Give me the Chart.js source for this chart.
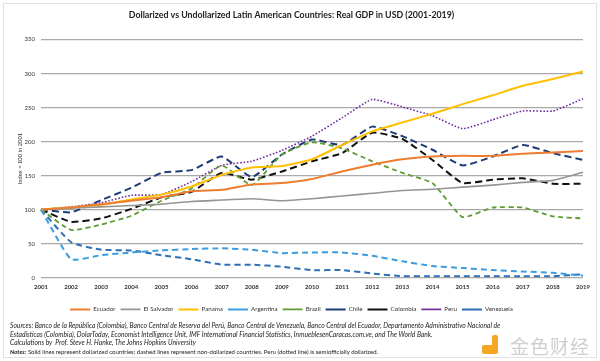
<!DOCTYPE html>
<html>
<head>
<meta charset="utf-8">
<script src="https://cdn.jsdelivr.net/npm/chart.js@4.4.1/dist/chart.umd.min.js"></script>
<style>
  html, body { margin: 0; padding: 0; background: #fff; }
  #wrap { position: relative; width: 600px; height: 361px; overflow: hidden; }
  #frame { position: absolute; left: 3px; top: 3px; right: 3px; bottom: 3px; border: 1px solid #e2e2e2; }
  #gdp { position: absolute; left: 0; top: 0; }
  .notes { position: absolute; left: 10px; top: 321px; font-family: Lato, sans-serif; font-size: 6.7px; line-height: 8.7px; color: #222; }
  .notes .n { font-size: 6px; }
  .mark { position: absolute; left: 486px; top: 332px; width: 110px; height: 26px; }
  .mark .logo { position: absolute; left: 0; top: 3px; width: 10px; height: 18px; }
  .mark .logo span { position: absolute; background: #f5a623; border-radius: 2px; }
  .mark .txt { position: absolute; left: 24px; top: 0; font-family: "Noto Sans CJK SC", sans-serif; font-size: 19px; color: #cfcfcf; letter-spacing: 1px; }
</style>
</head>
<body>
<div id="wrap">
  <div id="frame"></div>
  <canvas id="gdp" width="600" height="361"></canvas>
  <div class="notes">
    <i>Sources: Banco de la República (Colombia), Banco Central de Reserva del Perú, Banco Central de Venezuela, Banco Central del Ecuador, Departamento Administrativo Nacional de</i><br>
    <i>Estadísticas (Colombia), DolarToday, Economist Intelligence Unit, IMF International Financial Statistics, InmueblesenCaracas.com.ve, and The World Bank.</i><br>
    <i>Calculations by&nbsp; Prof. Steve H. Hanke, The Johns Hopkins University</i><br>
    <span class="n"><b><i>Notes:</i></b> Solid lines represent dollarized countries; dashed lines represent non-dollarized countries. Peru (dotted line) is semiofficially dollarized.</span>
  </div>
  <div class="mark">
    <div class="logo"><span style="left:6px;top:0;width:6px;height:12px"></span><span style="left:-4px;top:10px;width:16px;height:9px"></span></div>
    <div class="txt">金色财经</div>
  </div>
</div>
<script>
const years = ['2001','2002','2003','2004','2005','2006','2007','2008','2009','2010',
  '2011','2012','2013','2014','2015','2016','2017','2018','2019'];

const ecuador    = [100, 103, 108, 113, 118, 127, 129, 137, 139, 145, 156, 166, 174, 178, 179, 179, 182, 184, 186];
const elSalvador = [100, 102, 104, 106, 108, 112, 114, 116, 113, 116, 120, 124, 128, 130, 133, 136, 140, 143, 155];
const panama     = [100, 103, 107, 115, 122, 134, 151, 162, 164, 174, 195, 215, 228, 241, 255, 268, 282, 292, 303];
const argentina  = [100, 27, 33, 37, 40, 42, 43, 41, 36, 37, 37, 32, 24, 17, 14, 11, 9, 7, 3];
const brazil     = [100, 70, 78, 91, 113, 131, 165, 136, 181, 199, 190, 171, 154, 139, 89, 103, 103, 90, 87];
const chile      = [100, 96, 114, 132, 154, 158, 178, 148, 181, 203, 195, 222, 208, 188, 165, 178, 195, 183, 173];
const colombia   = [100, 82, 87, 101, 118, 126, 154, 144, 156, 171, 183, 213, 204, 173, 139, 144, 146, 138, 138];
const peru       = [100, 104, 110, 121, 122, 141, 165, 171, 187, 208, 235, 262, 251, 238, 219, 232, 245, 245, 263];
const venezuela  = [100, 52, 41, 40, 33, 27, 19, 19, 16, 11, 11, 6, 2, 2, 2, 2, 2, 2, 5];

const yTicks = [0, 50, 100, 150, 200, 250, 300, 350];

function series(label, data, color, width, dash) {
  return {
    label, data,
    borderColor: color,
    backgroundColor: color,
    borderWidth: width,
    borderDash: dash,
    pointRadius: 0,
    pointHoverRadius: 0,
    pointStyle: 'line',
    tension: 0.15,
    fill: false
  };
}

const font = 'Lato, sans-serif';

new Chart(document.getElementById('gdp'), {
  type: 'line',
  data: {
    labels: years,
    datasets: [
      series('Ecuador', ecuador, '#ed7d31', 2, []),
      series('El Salvador', elSalvador, '#959595', 1.6, []),
      series('Panama', panama, '#ffc000', 2, []),
      series('Argentina', argentina, '#3b9de0', 2, [6, 4]),
      series('Brazil', brazil, '#5e9c33', 1.8, [5, 3.5]),
      series('Chile', chile, '#1f3c74', 2, [7, 4]),
      series('Colombia', colombia, '#111111', 2, [7, 4]),
      series('Peru', peru, '#7030a0', 1.6, [1.6, 1.8]),
      series('Venezuela', venezuela, '#2e6fb5', 2, [6, 4])
    ]
  },
  options: {
    responsive: false,
    animation: false,
    layout: { padding: { left: 0, right: 17, top: 0, bottom: 38.5 } },
    plugins: {
      title: {
        display: true,
        text: 'Dollarized vs Undollarized Latin American Countries: Real GDP in USD (2001-2019)',
        color: '#222',
        font: { family: font, size: 8.8, weight: 'bold' },
        padding: { top: 10, bottom: 19 }
      },
      legend: {
        position: 'bottom',
        labels: {
          usePointStyle: true,
          pointStyleWidth: 20,
          boxHeight: 6,
          padding: 5,
          color: '#333',
          font: { family: font, size: 6.2 }
        }
      },
      tooltip: { enabled: false }
    },
    scales: {
      x: {
        offset: false,
        grid: { display: false, drawTicks: false },
        border: { display: false },
        afterFit: (scale) => { scale.height += 5.5; },
        ticks: { color: '#333', font: { family: font, size: 6, weight: 'bold' }, padding: 5.5, maxRotation: 0, autoSkip: false }
      },
      y: {
        min: 0,
        max: 350,
        afterBuildTicks: (scale) => { scale.ticks = yTicks.map(v => ({ value: v })); },
        afterFit: (scale) => { scale.width = 41; },
        grid: { color: '#a9a9a9', lineWidth: 1.3, drawTicks: false },
        border: { display: false },
        title: { display: true, text: 'Index = 100 in 2001', color: '#333', font: { family: font, size: 5.8 }, padding: { top: 17, bottom: 0 } },
        ticks: { color: '#333', font: { family: font, size: 6 }, padding: 6 }
      }
    }
  }
});
</script>
</body>
</html>
